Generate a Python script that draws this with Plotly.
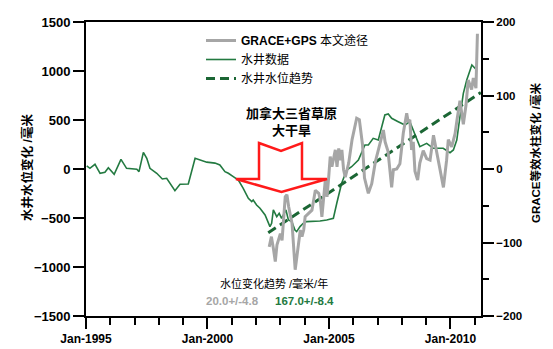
import plotly.graph_objects as go
import pandas as pd

# ---------------- data ----------------
well_years = [1995.03, 1995.16, 1995.37, 1995.58, 1995.78, 1995.92, 1996.16, 1996.44, 1996.67,
              1997.09, 1997.18, 1997.36, 1997.50, 1997.63, 1997.91, 1998.14, 1998.32, 1998.66,
              1998.87, 1999.21, 1999.49, 1999.69, 1999.97, 2000.31, 2000.51, 2000.72, 2000.86,
              2001.06, 2001.27, 2001.47, 2001.68, 2001.82, 2001.88, 2002.02, 2002.16, 2002.37,
              2002.50, 2002.57, 2002.64, 2002.71, 2002.85, 2002.95, 2003.05, 2003.23, 2003.33,
              2003.47, 2003.60, 2003.67, 2003.81, 2003.94, 2004.08, 2004.35, 2004.63, 2004.91,
              2005.18, 2005.32, 2005.52, 2005.73, 2005.93, 2006.21, 2006.35, 2006.48, 2006.62,
              2006.82, 2007.03, 2007.17, 2007.30, 2007.44, 2007.58, 2007.85, 2008.13, 2008.33,
              2008.54, 2008.74, 2009.02, 2009.29, 2009.70, 2009.98, 2010.12, 2010.26, 2010.39,
              2010.53, 2010.67, 2010.88, 2011.08]
well_mm = [31, 7, 48, -44, -34, 13, -54, 99, 7,
           -3, -27, 170, 109, 7, -44, -102, -95, -221,
           -156, -153, 109, 95, 70, 60, 41, -27, -44,
           -78, -112, -197, -299, -333, -316, -367, -401, -469,
           -554, -588, -554, -418, -486, -452, -503, -418, -520,
           -537, -622, -639, -588, -554, -537, -537, -530, -520,
           -503, -350, -146, -10, 23, 92, 177, 245, 245,
           313, 296, 432, 551, 561, 517, 483, 449, 483,
           347, 228, 262, 211, 211, 166, 194, 296, 533,
           772, 908, 1061, 1010]

grace_years = [2002.54, 2002.63, 2002.72, 2002.79, 2002.86, 2003.00, 2003.07, 2003.20, 2003.27,
               2003.34, 2003.48, 2003.55, 2003.61, 2003.68, 2003.75, 2003.82, 2003.89, 2003.96,
               2004.02, 2004.16, 2004.30, 2004.44, 2004.58, 2004.64, 2004.71, 2004.85, 2004.92,
               2004.99, 2005.05, 2005.12, 2005.19, 2005.26, 2005.33, 2005.40, 2005.47, 2005.53,
               2005.60, 2005.67, 2005.81, 2005.95, 2006.14, 2006.25, 2006.38, 2006.46, 2006.62,
               2006.76, 2006.91, 2007.10, 2007.24, 2007.31, 2007.43, 2007.58, 2007.65, 2007.79,
               2007.92, 2008.06, 2008.20, 2008.26, 2008.33, 2008.40, 2008.47, 2008.54, 2008.65,
               2008.74, 2008.88, 2009.02, 2009.16, 2009.30, 2009.43, 2009.57, 2009.71, 2009.84,
               2009.91, 2010.05, 2010.19, 2010.27, 2010.39, 2010.53, 2010.64, 2010.73, 2010.87,
               2010.94, 2011.05, 2011.11]
grace_mm = [-106, -92, -110, -126, -103, -88, -97, -38, -35,
            -51, -74, -110, -137, -119, -97, -83, -92, -83,
            -65, -60, -56, -29, -33, -42, -65, -15, -38,
            -11, 17, 3, 17, 26, 3, 28, 12, 26,
            -1, -11, 8, 40, 69, 67, 33, -12, -33,
            -20, 10, 37, 53, 37, 24, -25, -1, 0,
            7, 49, 76, 64, 67, 26, 37, -3, -15,
            8, 25, 14, 12, 46, 23, 1, -25, 12,
            40, 30, 48, 67, 93, 61, 87, 121, 108,
            124, 110, 184]

trend_years = [2002.50, 2011.25]
trend_mm = [-650, 780]

rate_grace = "20.0+/-4.8"
rate_well = "167.0+/-8.4"


def to_dates(years):
    out = []
    for y in years:
        yi = int(y)
        out.append(pd.Timestamp(year=yi, month=1, day=1) + pd.Timedelta(days=(y - yi) * 365.25))
    return out


FONT = "Liberation Sans, Arial, Noto Sans CJK SC, sans-serif"
GREEN = "#237a41"
DGREEN = "#1b6634"
GRAY = "#a6a6a6"

fig = go.Figure()
fig.add_trace(go.Scatter(x=to_dates(grace_years), y=grace_mm, yaxis="y2", mode="lines",
                         line=dict(color=GRAY, width=3),
                         name="<b>GRACE+GPS</b> 本文途径"))
fig.add_trace(go.Scatter(x=to_dates(well_years), y=well_mm, mode="lines",
                         line=dict(color=GREEN, width=1.6), name="水井数据"))
fig.add_trace(go.Scatter(x=to_dates(trend_years), y=trend_mm, mode="lines",
                         line=dict(color=DGREEN, width=3, dash="9px,5px"), name="水井水位趋势"))

# plot area in px: x 86..481, y 22..316
def px(xp):
    return (xp - 86) / 395.0

def py(yp):
    return (316 - yp) / 294.0

arrow = [(259, 143), (281, 151), (302, 143), (302, 179), (327, 179), (281.5, 192), (236, 179), (259, 179)]
path = "M " + " L ".join(f"{px(a):.4f} {py(b):.4f}" for a, b in arrow) + " Z"

fig.update_layout(
    template="none",
    width=553, height=349,
    margin=dict(l=86, r=72, t=22, b=33, autoexpand=False),
    paper_bgcolor="white", plot_bgcolor="white",
    font=dict(family=FONT, size=12, color="black"),
    showlegend=True,
    legend=dict(x=px(201), y=py(26), xanchor="left", yanchor="top",
                bgcolor="rgba(0,0,0,0)", font=dict(size=12), itemwidth=30,
                tracegroupgap=0),
    xaxis=dict(type="date", range=[pd.Timestamp("1995-01-01"), pd.Timestamp("2011-04-05")],
               tick0="1995-01-01", dtick="M60", tickformat="%b-%Y", automargin=False,
               ticks="outside", ticklen=11, tickwidth=2, tickcolor="black",
               showline=True, linewidth=2, linecolor="black", mirror=True,
               showgrid=False, zeroline=False,
               tickfont=dict(size=12, weight="bold"),
               minor=dict(dtick="M12", tick0="1995-01-01", ticks="outside", ticklen=7,
                          tickwidth=2, tickcolor="black", showgrid=False)),
    yaxis=dict(range=[-1500, 1500], dtick=500, ticks="outside", ticklen=11, tickwidth=2,
               tickcolor="black", showline=True, linewidth=2, linecolor="black", automargin=False,
               showgrid=False, zeroline=False, tickfont=dict(size=13, weight="bold")),
    yaxis2=dict(range=[-200, 200], dtick=100, overlaying="y", side="right", automargin=False,
                ticks="outside", ticklen=11, tickwidth=2, tickcolor="black",
                showline=True, linewidth=2, linecolor="black",
                showgrid=False, zeroline=False, tickfont=dict(size=11.5, weight="bold"),
                minor=dict(dtick=50, ticks="outside", ticklen=6, tickwidth=2,
                           tickcolor="black", showgrid=False)),
    shapes=[dict(type="path", xref="paper", yref="paper", path=path,
                 line=dict(color="#ff1a1a", width=2.5), fillcolor="rgba(0,0,0,0)")],
)

ann = [
    dict(text="<b>加拿大三省草原</b>", x=px(291), y=py(113), size=13, color="black"),
    dict(text="<b>大干旱</b>", x=px(291), y=py(130), size=13, color="black"),
    dict(text="水位变化趋势 /毫米/年", x=px(274), y=py(283), size=11, color="black"),
    dict(text=f"<b>{rate_grace}</b>", x=px(232.5), y=py(301), size=11.5, color=GRAY),
    dict(text=f"<b>{rate_well}</b>", x=px(304), y=py(301), size=11.5, color=GREEN),
]
for a in ann:
    fig.add_annotation(text=a["text"], x=a["x"], y=a["y"], xref="paper", yref="paper",
                       showarrow=False, xanchor="center", yanchor="middle",
                       font=dict(size=a["size"], color=a["color"], family=FONT))

fig.add_annotation(text="<b>水井水位变化 /毫米</b>", x=px(27), y=py(168), xref="paper", yref="paper",
                   showarrow=False, textangle=-90, xanchor="center", yanchor="middle",
                   font=dict(size=12.5, color="black", family=FONT))
fig.add_annotation(text="<b>GRACE等效水柱变化 /毫米</b>", x=px(535), y=py(153), xref="paper", yref="paper",
                   showarrow=False, textangle=-90, xanchor="center", yanchor="middle",
                   font=dict(size=11.5, color="black", family=FONT))

fig.write_html("out.html")
